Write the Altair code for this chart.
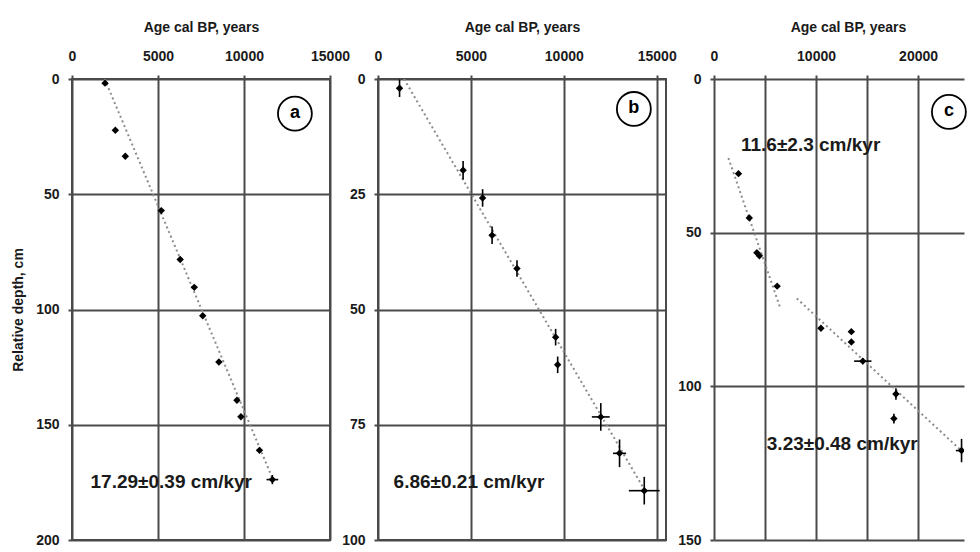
import altair as alt
import pandas as pd

# ---------------- data ----------------
# Panel a
age_a = [1920, 2520, 3100, 5190, 6290, 7110, 7600, 8540, 9590, 9820, 10900, 11650]
depth_a = [1.8, 22.2, 33.5, 57.1, 78.3, 90.4, 102.7, 122.8, 139.4, 146.5, 161.1, 173.8]
age_err_a = [0, 0, 0, 0, 0, 0, 0, 0, 0, 0, 0, 340]
depth_err_a = [0, 0, 0, 0, 0, 0, 0, 0, 0, 0, 0, 2.0]
trend_a_age = [1900, 11700]
trend_a_depth = [0, 174]
trend_a_seg = ["a1", "a1"]

# Panel b
age_b = [1160, 4580, 5630, 6140, 7480, 9560, 9670, 11990, 13000, 14330]
depth_b = [2.0, 19.8, 25.8, 33.9, 41.1, 56.0, 62.0, 73.3, 81.2, 89.3]
age_err_b = [0, 0, 0, 0, 0, 0, 0, 480, 350, 830]
depth_err_b = [1.9, 2.0, 1.9, 1.9, 1.8, 1.8, 1.8, 3.0, 3.0, 3.0]
trend_b_age = [1400, 14400]
trend_b_depth = [0, 89.5]
trend_b_seg = ["b1", "b1"]

# Panel c
age_c = [2400, 3460, 4200, 4450, 6190, 10480, 13460, 13460, 14580, 17830, 17630, 24260]
depth_c = [30.8, 45.2, 56.5, 57.5, 67.4, 81.1, 82.2, 85.6, 91.8, 102.5, 110.5, 120.9]
age_err_c = [0, 0, 0, 0, 0, 0, 0, 0, 850, 0, 0, 560]
depth_err_c = [0, 0, 0, 0, 0, 0, 0, 0, 1.0, 1.9, 1.6, 3.8]
trend_c_age = [1410, 6440, 8110, 24230]
trend_c_depth = [25.7, 74.0, 71.4, 120.9]
trend_c_seg = ["c1", "c1", "c2", "c2"]

# annotations
rate_text_a = ["17.29\u00b10.39 cm/kyr"]
rate_age_a = [5770]
rate_depth_a = [174.8]
rate_text_b = ["6.86\u00b10.21 cm/kyr"]
rate_age_b = [4900]
rate_depth_b = [87.4]
rate_text_c = ["11.6\u00b12.3 cm/kyr", "3.23\u00b10.48 cm/kyr"]
rate_age_c = [9470, 12570]
rate_depth_c = [21.4, 118.7]

panel_labels = ["a", "b", "c"]
label_age = [12960, 13770, 23020]
label_depth = [15.0, 6.5, 10.7]

x_title = "Age cal BP, years"
y_title = "Relative depth, cm"

FONT = "Liberation Sans"
GRID = "#4a4a4a"


def panel(ages, depths, aerr, derr, t_age, t_depth, t_seg, r_text, r_age, r_depth,
          letter, l_age, l_depth, xdom, xvals, ydom, yvals, width, height,
          ytitle, label_expr, stroke, title_x=None):
    pts = pd.DataFrame({"age": ages, "depth": depths, "aerr": aerr, "derr": derr})
    trend = pd.DataFrame({"age": t_age, "depth": t_depth, "seg": t_seg})
    rates = pd.DataFrame({"age": r_age, "depth": r_depth, "txt": r_text})
    lab = pd.DataFrame({"age": [l_age], "depth": [l_depth], "txt": [letter]})

    xaxis_kw = dict(orient="top", values=xvals, title=x_title, labelPadding=12,
                    titlePadding=15, labelExpr=label_expr, format="d")
    if title_x is not None:
        xaxis_kw["titleX"] = title_x
    xaxis = alt.Axis(**xaxis_kw)
    if ytitle:
        yaxis = alt.Axis(values=yvals, title=ytitle, labelPadding=9, titlePadding=10,
                         format="d")
    else:
        yaxis = alt.Axis(values=yvals, title=None, labelPadding=9, format="d")
    xs = alt.Scale(domain=xdom, nice=False, zero=False)
    ys = alt.Scale(domain=ydom, reverse=True, nice=False, zero=False)

    def X(f):
        return alt.X(f, scale=xs, axis=xaxis)

    def Y(f):
        return alt.Y(f, scale=ys, axis=yaxis)

    lines = alt.Chart(trend).mark_line(
        strokeDash=[2, 3], color="#8c8c8c", strokeWidth=2, clip=True
    ).encode(x=X("age:Q"), y=Y("depth:Q"), detail="seg:N")

    hbars = alt.Chart(pts).transform_filter("datum.aerr > 0").transform_calculate(
        lo="datum.age - datum.aerr", hi="datum.age + datum.aerr"
    ).mark_rule(color="black", strokeWidth=1.6, clip=True).encode(
        x=X("lo:Q"), x2="hi:Q", y=Y("depth:Q"))

    vbars = alt.Chart(pts).transform_filter("datum.derr > 0").transform_calculate(
        lo="datum.depth - datum.derr", hi="datum.depth + datum.derr"
    ).mark_rule(color="black", strokeWidth=1.6, clip=True).encode(
        x=X("age:Q"), y=Y("lo:Q"), y2="hi:Q")

    points = alt.Chart(pts).mark_point(
        shape="diamond", filled=True, color="black", size=55, opacity=1, clip=True
    ).encode(x=X("age:Q"), y=Y("depth:Q"))

    rate_txt = alt.Chart(rates).mark_text(
        font=FONT, fontSize=19, fontWeight="bold", color="#1a1a1a",
        align="center", baseline="middle"
    ).encode(x=X("age:Q"), y=Y("depth:Q"), text="txt:N")

    circ = alt.Chart(lab).mark_point(
        shape="circle", size=1150, filled=True, fill="white", stroke="black",
        strokeWidth=1.8, opacity=1
    ).encode(x=X("age:Q"), y=Y("depth:Q"))

    letter_txt = alt.Chart(lab).mark_text(
        font=FONT, fontSize=18, fontWeight="bold", color="black",
        align="center", baseline="middle", dy=-1
    ).encode(x=X("age:Q"), y=Y("depth:Q"), text="txt:N")

    return alt.layer(lines, hbars, vbars, points, rate_txt, circ, letter_txt).properties(
        width=width, height=height,
        view=alt.ViewBackground(stroke=stroke, strokeWidth=2)
    )


H = 461
pa = panel(age_a, depth_a, age_err_a, depth_err_a, trend_a_age, trend_a_depth, trend_a_seg,
           rate_text_a, rate_age_a, rate_depth_a, panel_labels[0], label_age[0], label_depth[0],
           [0, 15000], [0, 5000, 10000, 15000], [0, 200], [0, 50, 100, 150, 200],
           258, H, y_title, "datum.label", GRID)
pb = panel(age_b, depth_b, age_err_b, depth_err_b, trend_b_age, trend_b_depth, trend_b_seg,
           rate_text_b, rate_age_b, rate_depth_b, panel_labels[1], label_age[1], label_depth[1],
           [0, 15500], [0, 5000, 10000, 15000], [0, 100], [0, 25, 50, 75, 100],
           288, H, None, "datum.label", GRID)
pc = panel(age_c, depth_c, age_err_c, depth_err_c, trend_c_age, trend_c_depth, trend_c_seg,
           rate_text_c, rate_age_c, rate_depth_c, panel_labels[2], label_age[2], label_depth[2],
           [0, 24500], [0, 5000, 10000, 15000, 20000], [0, 150], [0, 50, 100, 150],
           250, H, None, "datum.value % 10000 == 0 ? datum.label : ''", "transparent",
           title_x=134)

chart = alt.hconcat(pa, pb, pc, spacing=48, bounds="flush").properties(
    padding={"left": 2, "top": 11, "right": 0, "bottom": 0},
    background="white"
).configure_axis(
    labelFont=FONT, labelFontSize=14, labelFontWeight="bold", labelColor="#1a1a1a",
    titleFont=FONT, titleFontSize=14, titleFontWeight="bold", titleColor="#1a1a1a",
    grid=True, gridColor=GRID, gridWidth=2, gridOpacity=1,
    domain=False, ticks=True, tickSize=4, tickColor=GRID, tickWidth=2,
    labelOverlap=False, labelBound=False, labelFlush=False
)

chart.save("out.html", embed_options={"renderer": "svg", "actions": False})
